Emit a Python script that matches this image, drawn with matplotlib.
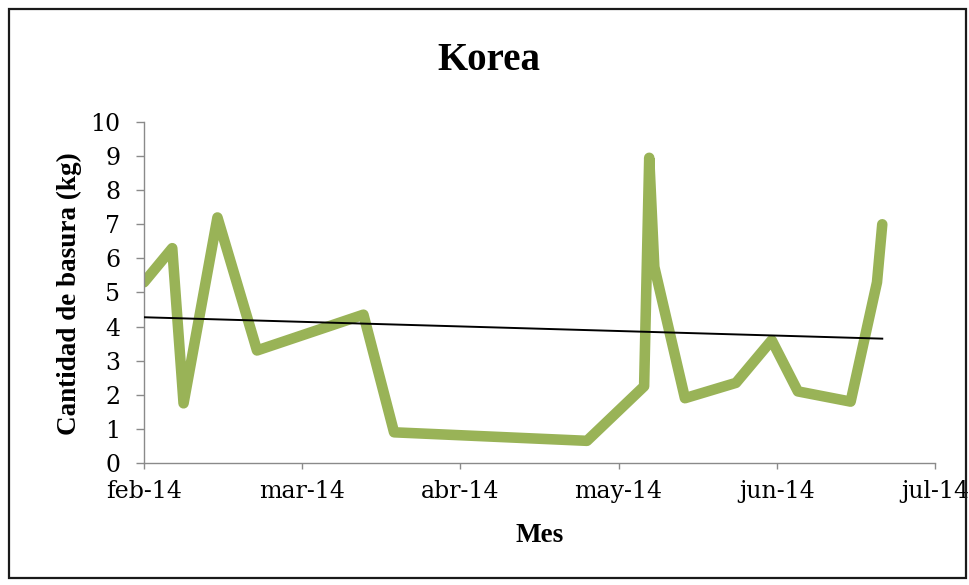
import calendar
from datetime import date

import matplotlib
matplotlib.use("Agg")
import matplotlib.pyplot as plt
import numpy as np
from matplotlib.patches import Rectangle

# Weekly waste measurements (date, kg)
fechas = [
    "2014-02-01", "2014-02-06", "2014-02-08", "2014-02-14", "2014-02-21",
    "2014-03-13", "2014-03-19", "2014-04-25", "2014-05-06", "2014-05-07",
    "2014-05-08", "2014-05-14", "2014-05-24", "2014-05-31", "2014-06-05",
    "2014-06-15", "2014-06-20", "2014-06-21",
]
basura_kg = [
    5.3, 6.3, 1.75, 7.2, 3.3,
    4.35, 0.9, 0.65, 2.25, 8.95,
    5.75, 1.9, 2.35, 3.6, 2.1,
    1.8, 5.3, 7.0,
]
meses = ["feb-14", "mar-14", "abr-14", "may-14", "jun-14", "jul-14"]
y_ticks = list(range(0, 11))

titulo = "Korea"
etiqueta_x = "Mes"
etiqueta_y = "Cantidad de basura (kg)"


def posicion_mes(fecha_txt, inicio=(2014, 2)):
    """Position in month units, each month taking one unit on the axis."""
    d = date.fromisoformat(fecha_txt)
    idx = (d.year - inicio[0]) * 12 + (d.month - inicio[1])
    dias = calendar.monthrange(d.year, d.month)[1]
    return idx + (d.day - 1) / dias


x = np.array([posicion_mes(f) for f in fechas])
y = np.array(basura_kg)

tick_font = ["DejaVu Serif"]
label_font = ["Liberation Serif", "DejaVu Serif"]
plt.rcParams["font.family"] = tick_font

fig = plt.figure(figsize=(9.7, 5.85), dpi=100)
fig.patch.set_facecolor("white")

ax = fig.add_axes([144 / 970, 1 - 463 / 585, (935 - 144) / 970, (463 - 122) / 585])

ax.plot(x, y, color="#99B357", lw=7.6, solid_joinstyle="round",
        solid_capstyle="round", zorder=2)

# Linear trend over the measured range
m, b = np.polyfit(x, y, 1)
xt = np.array([x.min(), x.max()])
ax.plot(xt, m * xt + b, color="black", lw=1.4, zorder=3)

ax.set_xlim(0, len(meses) - 1)
ax.set_ylim(0, 10)
ax.set_xticks(range(len(meses)))
ax.set_xticklabels(meses)
ax.set_yticks(y_ticks)

for s in ("top", "right"):
    ax.spines[s].set_visible(False)
for s in ("left", "bottom"):
    ax.spines[s].set_color("#8a8a8a")
    ax.spines[s].set_linewidth(1.0)

ax.tick_params(axis="y", direction="out", length=6, width=1, color="#8a8a8a",
               labelsize=17, pad=11)
ax.tick_params(axis="x", direction="out", length=4, width=1, color="#8a8a8a",
               labelsize=17, pad=8)

fig.text(489 / 970, 1 - 60 / 585, titulo, ha="center", va="center",
         fontsize=28, fontweight="bold", family=label_font)
fig.text(540 / 970, 1 - 535 / 585, etiqueta_x, ha="center", va="center",
         fontsize=19.5, fontweight="bold", family=label_font)
fig.text(69 / 970, 1 - 294 / 585, etiqueta_y, ha="center", va="center",
         rotation=90, fontsize=19.5, fontweight="bold", family=label_font)

fig.add_artist(Rectangle((9 / 970, 7 / 585), (966 - 9) / 970, (578 - 9) / 585,
                         transform=fig.transFigure, fill=False,
                         edgecolor="#1a1a1a", lw=1.6))

fig.savefig("out.png", dpi=100)
